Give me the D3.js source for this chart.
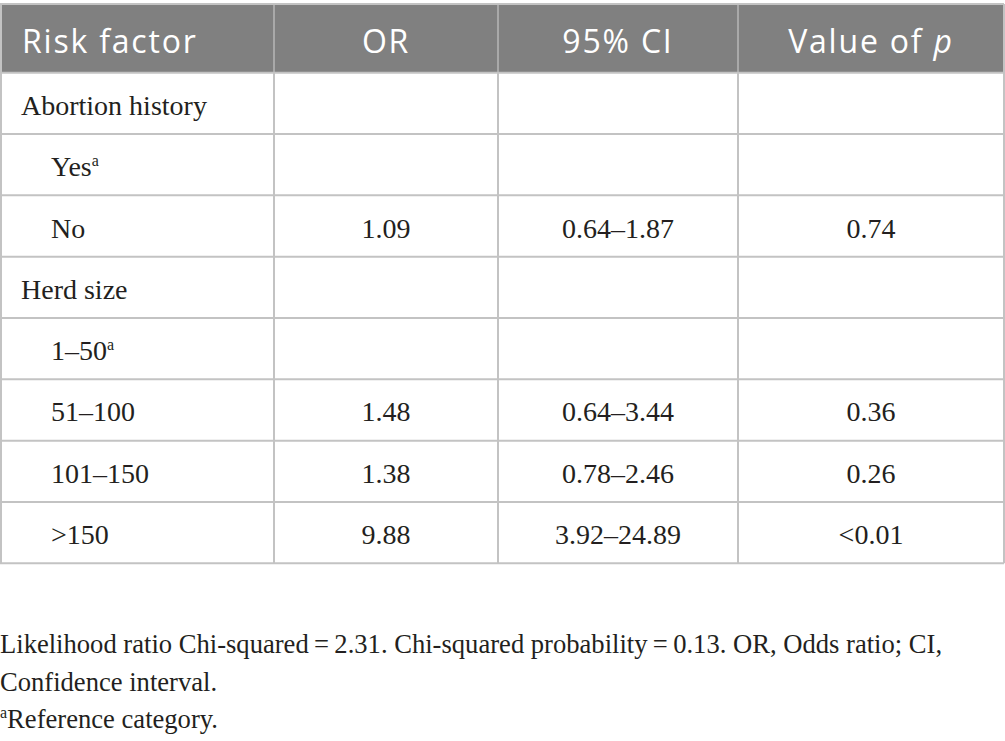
<!DOCTYPE html>
<html lang="en">
<head>
    <meta charset="UTF-8">
    <title>Risk factors table</title>
    <script src="https://d3js.org/d3.v7.min.js"></script>
    <style>
        body { margin: 0; background: #fff; }
    </style>
</head>
<body>
    <svg width="1005" height="741"></svg>

    <script>
        // table contents
        const headers = ['Risk factor', 'OR', '95% CI', 'Value of p'];
        const riskFactors = ['Abortion history', 'Yes', 'No', 'Herd size', '1–50', '51–100', '101–150', '>150'];
        const indented = [false, true, true, false, true, true, true, true];
        const referenceRow = [false, true, false, false, true, false, false, false];
        const oddsRatios = ['', '', '1.09', '', '', '1.48', '1.38', '9.88'];
        const ciRanges = ['', '', '0.64–1.87', '', '', '0.64–3.44', '0.78–2.46', '3.92–24.89'];
        const pValues = ['', '', '0.74', '', '', '0.36', '0.26', '<0.01'];
        const footnotes = [
            'Likelihood ratio Chi-squared\u2009=\u20092.31. Chi-squared probability\u2009=\u20090.13. OR, Odds ratio; CI,',
            'Confidence interval.'
        ];
        const refNote = 'Reference category.';

        const colEdges = [0, 274, 498, 738, 1004];
        const headTop = 4, headBottom = 72.7, tableBottom = 563.3;
        const serif = '"Liberation Serif", "Times New Roman", serif';
        const sans = '"Open Sans", "Noto Sans", sans-serif';
        const ink = '#231f20';
        const lineColor = '#c3c3c3';

        const svg = d3.select('svg');

        const y = d3.scaleBand()
            .domain(d3.range(riskFactors.length))
            .range([headBottom, tableBottom]);

        const rows = riskFactors.map((name, i) => ({
            name, indent: indented[i], ref: referenceRow[i],
            cells: [oddsRatios[i], ciRanges[i], pValues[i]]
        }));

        // header band
        svg.append('rect')
            .attr('x', 0).attr('y', headTop)
            .attr('width', colEdges[4]).attr('height', headBottom - headTop)
            .attr('fill', '#808080');

        // grid lines
        const grid = svg.append('g')
            .attr('stroke', lineColor)
            .attr('stroke-width', 2);

        grid.selectAll('line.h')
            .data([headTop, headBottom, ...y.domain().map(i => y(i) + y.bandwidth())])
            .join('line')
            .attr('class', 'h')
            .attr('x1', 0).attr('x2', colEdges[4])
            .attr('y1', d => d).attr('y2', d => d);

        grid.selectAll('line.v')
            .data(colEdges)
            .join('line')
            .attr('class', 'v')
            .attr('x1', d => d === 0 ? 1 : d).attr('x2', d => d === 0 ? 1 : d)
            .attr('y1', headTop).attr('y2', tableBottom);

        // lighter dividers over the header
        svg.append('g')
            .selectAll('line')
            .data(colEdges.slice(1, 4))
            .join('line')
            .attr('x1', d => d).attr('x2', d => d)
            .attr('y1', headTop + 1).attr('y2', headBottom - 1)
            .attr('stroke', '#a9a9a9')
            .attr('stroke-width', 2);

        // header text
        const headText = svg.append('g')
            .attr('font-family', sans)
            .attr('font-size', 32)
            .attr('letter-spacing', 1.8)
            .attr('fill', '#fff');

        headers.forEach((h, i) => {
            const t = headText.append('text')
                .attr('y', headTop + (headBottom - headTop) / 2 + 15)
                .attr('x', i === 0 ? 22 : (colEdges[i] + colEdges[i + 1]) / 2)
                .attr('text-anchor', i === 0 ? 'start' : 'middle');
            if (h.endsWith(' p')) {
                t.append('tspan').text(h.slice(0, -1));
                t.append('tspan').attr('font-style', 'italic').text('p');
            } else {
                t.text(h);
            }
        });

        // body rows
        const body = svg.append('g')
            .attr('font-family', serif)
            .attr('font-size', 28)
            .attr('fill', ink);

        const row = body.selectAll('g.row')
            .data(rows)
            .join('g')
            .attr('class', 'row')
            .attr('transform', (d, i) => `translate(0,${y(i) + y.bandwidth() / 2 + 11.5})`);

        const label = row.append('text')
            .attr('x', d => d.indent ? 51 : 21);
        label.append('tspan').text(d => d.name);
        label.filter(d => d.ref).append('tspan')
            .attr('font-size', 16)
            .attr('dy', -10)
            .text('a');

        row.selectAll('text.cell')
            .data(d => d.cells)
            .join('text')
            .attr('class', 'cell')
            .attr('text-anchor', 'middle')
            .attr('x', (d, i) => (colEdges[i + 1] + colEdges[i + 2]) / 2)
            .text(d => d);

        // footnotes
        const notes = svg.append('g')
            .attr('font-family', serif)
            .attr('font-size', 26.6)
            .attr('fill', ink);

        notes.selectAll('text.fn')
            .data(footnotes)
            .join('text')
            .attr('class', 'fn')
            .attr('x', 0)
            .attr('y', (d, i) => 653 + i * 38)
            .text(d => d);

        const ref = notes.append('text').attr('x', 0).attr('y', 728);
        ref.append('tspan').attr('font-size', 16).attr('dy', -10).text('a');
        ref.append('tspan').attr('dy', 10).text(refNote);
    </script>
</body>
</html>
